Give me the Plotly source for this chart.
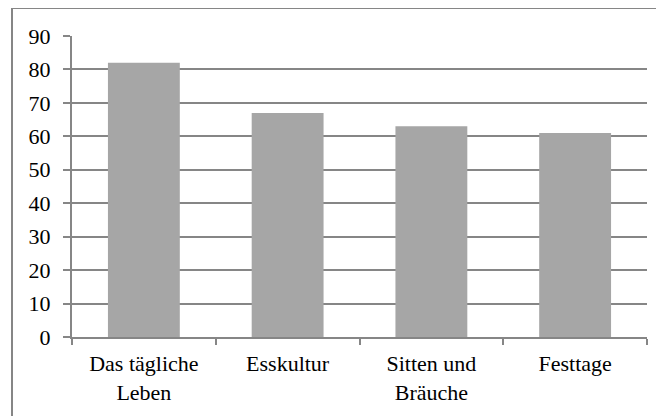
import plotly.graph_objects as go

categories = ["Das tägliche<br>Leben", "Esskultur", "Sitten und<br>Bräuche", "Festtage"]
values = [82, 67, 63, 61]
y_ticks = [0, 10, 20, 30, 40, 50, 60, 70, 80, 90]

# page body has an 8px offset; compensate in the margins
OFF = 8
W, H = 664, 416
L, T = 72 - OFF, 36 - OFF
R = W - (647 - OFF)
B = H - (337.5 - OFF)
pw, ph = W - L - R, H - T - B

fig = go.Figure(go.Bar(x=categories, y=values, marker=dict(color="#A6A6A6", line=dict(width=0)),
                       width=0.5))

fig.update_layout(
    width=W, height=H,
    margin=dict(l=L, r=R, t=T, b=B, pad=0),
    paper_bgcolor="white", plot_bgcolor="white",
    font=dict(family="Liberation Serif, DejaVu Serif, Times New Roman, serif", size=22, color="black"),
    showlegend=False,
    bargap=0.5,
)
fig.update_xaxes(
    showline=True, linecolor="#868686", linewidth=2,
    ticks="outside", tickson="boundaries", ticklen=6, tickcolor="#868686", tickwidth=2,
    showgrid=False, ticklabelstandoff=6,
)
fig.update_yaxes(
    range=[0, 90], tickvals=y_ticks,
    showline=True, linecolor="#868686", linewidth=2,
    ticks="outside", ticklen=7, tickcolor="#868686", tickwidth=2,
    showgrid=True, gridcolor="#868686", gridwidth=2, zeroline=False,
    ticklabelstandoff=8,
)
fig.add_shape(type="rect", xref="paper", yref="paper",
              x0=(12 - OFF - L) / pw, x1=(W + 20 - L) / pw,
              y0=(T + ph - (H + 20)) / ph, y1=(T + ph - (8 - OFF)) / ph,
              line=dict(color="#868686", width=2), fillcolor="rgba(0,0,0,0)", layer="below")

fig.write_html("out.html")
